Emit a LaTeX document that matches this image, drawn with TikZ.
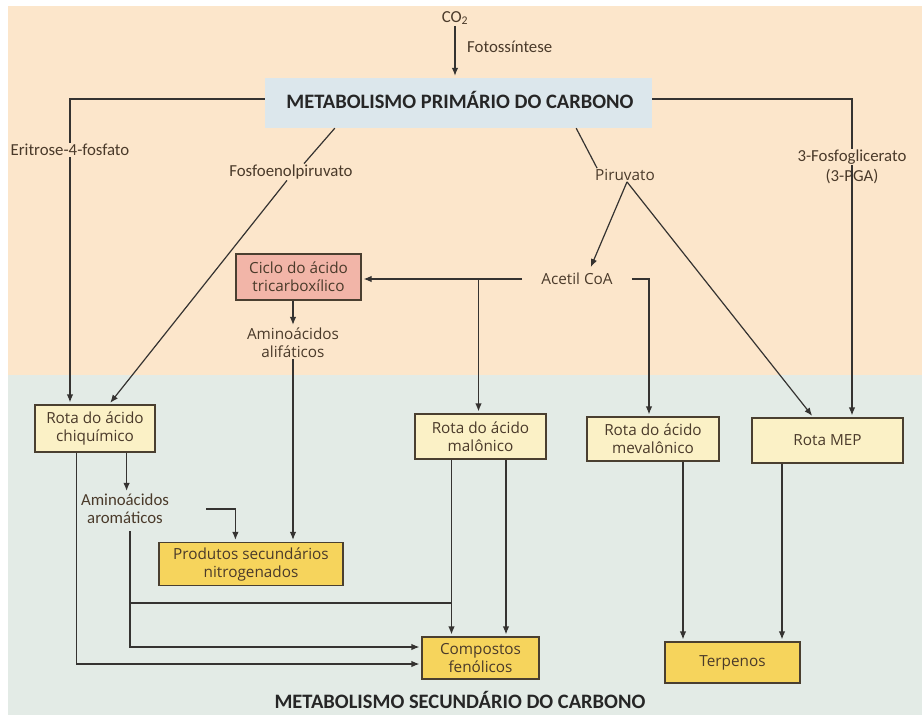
\documentclass[tikz,border=0pt]{standalone}
\usepackage{fontspec}
\setmainfont{Open Sans}
\newfontfamily\labfont{Carlito}
\usetikzlibrary{arrows.meta,calc}
\definecolor{peach}{HTML}{FCE6CB}
\definecolor{bluebg}{HTML}{E3EBE6}
\definecolor{mainfill}{HTML}{DCE7EC}
\definecolor{rotafill}{HTML}{FBF1C6}
\definecolor{yelfill}{HTML}{F6D45C}
\definecolor{pinkfill}{HTML}{F2B5A8}
\definecolor{boxline}{HTML}{4A3F30}
\definecolor{txt}{HTML}{4A3A2A}
\definecolor{ln}{HTML}{353331}
\newcommand\bxf{\fontsize{15.3}{18}\selectfont}
\newcommand\lbf{\labfont\fontsize{16.8}{18}\selectfont}
\newcommand\ttlf{\labfont\bfseries\fontsize{20.5}{24}\selectfont}
\begin{document}
\begin{tikzpicture}[x=1pt,y=-1pt,
  basebox/.style={draw=boxline, line width=1.2pt, align=center, font=\bxf, text=txt, inner sep=0pt},
  rotabox/.style={basebox, fill=rotafill},
  yelbox/.style={basebox, fill=yelfill},
  pinkbox/.style={basebox, fill=pinkfill},
  lab/.style={font=\lbf, text=txt, align=center, inner sep=1pt},
  labw/.style={font=\bxf, text=txt, align=center, inner sep=1pt},
  ttl/.style={font=\ttlf, text=black!85},
  con/.style={draw=ln, line width=1.2pt},
  arr/.style={con, -{Latex[length=8pt,width=6.5pt]}, shorten >=2pt}]
\useasboundingbox (0,0) rectangle (922,715);
\fill[white] (0,0) rectangle (922,715);
\fill[peach] (8,6) rectangle (922,375);
\fill[bluebg] (8,375) rectangle (922,715);

% top
\node[lab] (co2) at (455,18) {CO\textsubscript{2}};
\node[lab, anchor=west] (fot) at (466,47) {Fotossíntese};
\node[fill=mainfill, minimum width=387pt, minimum height=50pt, inner sep=0pt] (main) at (458.5,103) {};
\node[ttl] (mtitle) at (460,100) {METABOLISMO PRIMÁRIO DO CARBONO};

% labels
\node[lab] (eri) at (70,150) {Eritrose-4-fosfato};
\node[lab] (fos) at (291,172) {Fosfoenolpiruvato};
\node[labw] (pir) at (625,175) {Piruvato};
\node[lab] (pga1) at (852,157) {3-Fosfoglicerato};
\node[lab] (pga2) at (852,177) {(3-PGA)};
\node[labw] (acetil) at (577,279) {Acetil CoA};
\node[labw] (alif) at (293,343) {Aminoácidos\\alifáticos};
\node[lab] (arom) at (125,509) {Aminoácidos\\aromáticos};

% boxes
\node[pinkbox, minimum width=125pt, minimum height=46pt] (ciclo) at (298.5,277) {Ciclo do ácido\\tricarboxílico};
\node[rotabox, minimum width=120pt, minimum height=47pt] (chiq) at (95,428.5) {Rota do ácido\\chiquímico};
\node[rotabox, minimum width=131pt, minimum height=45pt] (malo) at (480.5,436.5) {Rota do ácido\\malônico};
\node[rotabox, minimum width=132pt, minimum height=44pt] (mev) at (653,439) {Rota do ácido\\mevalônico};
\node[rotabox, minimum width=151pt, minimum height=45pt] (mep) at (827.5,440.5) {Rota MEP};
\node[yelbox, minimum width=184pt, minimum height=43pt] (prod) at (251,564) {Produtos secundários\\nitrogenados};
\node[yelbox, minimum width=117pt, minimum height=42pt] (comp) at (480.5,658) {Compostos\\fenólicos};
\node[yelbox, minimum width=135pt, minimum height=41pt] (terp) at (732.5,662.5) {Terpenos};
\node[ttl] (stitle) at (460,700) {METABOLISMO SECUNDÁRIO DO CARBONO};

% connectors
\draw[arr] (co2.south) -- (co2.south |- main.north);
\draw[con] (main.west |- 0,99) -| (eri.north);
\draw[arr] (eri.south) -- (eri.south |- chiq.north);
\draw[con] (main.east |- 0,99) -| (pga1.north);
\draw[arr] (pga1.south) -- (pga1.south |- mep.north);

\draw[con] ($(main.south west)+(70,0)$) -- ($(fos.north)+(13,0)$);
\draw[arr] ($(fos.south)+(-4,0)$) -- ($(chiq.north)+(14,0)$);
\draw[con] ($(main.south east)+(-76,0)$) -- ($(pir.north west)+(3,0)$);

\coordinate (apex) at ($(pir.south)+(2,0)$);
\draw[arr] (apex) -- ($(acetil.north)+(13,-3)$);
\draw[arr] (apex) -- ($(mep.north west)+(62,0)$);

\coordinate (acw) at ($(acetil.west)+(-18,0)$);
\coordinate (ace) at ($(acetil.east)+(18,0)$);
\draw[arr] (acw) -- (acw -| ciclo.east);
\draw[arr] ($(malo.north |- acw)+(-2,0)$) -- ($(malo.north)+(-2,0)$);
\draw[arr] (ace) -| ($(mev.north)+(-4,0)$);

\draw[arr] (alif.north |- ciclo.south) -- (alif.north);
\draw[arr] (alif.south) -- (alif.south |- prod.north);

\coordinate (c1) at ($(chiq.south east)+(-29,0)$);
\draw[arr] (c1) -- (c1 |- arom.north);
\coordinate (c0) at ($(chiq.south west)+(42,0)$);
\draw[arr] (c0) |- ($(comp.west)+(0,6)$);
\draw[arr] ($(arom.east)+(36,0)$) -| ($(prod.north west)+(77,0)$);
\coordinate (a1) at ($(arom.south)+(5,6)$);
\draw[arr] (a1) |- ($(comp.west)+(0,-11)$);

\coordinate (m1) at ($(malo.south)+(-29,0)$);
\coordinate (m2) at ($(malo.south)+(25.5,0)$);
\coordinate (jy) at (0,603);
\draw[arr] (m1) -- (m1 |- comp.north);
\draw[arr] (m2) -- (m2 |- comp.north);
\draw[con] (a1 |- jy) -- (m1 |- jy);

\coordinate (v1) at ($(mev.south)+(30,0)$);
\draw[arr] (v1) -- (v1 |- terp.north);
\coordinate (p1) at ($(mep.south)+(-45.5,0)$);
\draw[arr] (p1) -- (p1 |- terp.north);
\end{tikzpicture}
\end{document}
